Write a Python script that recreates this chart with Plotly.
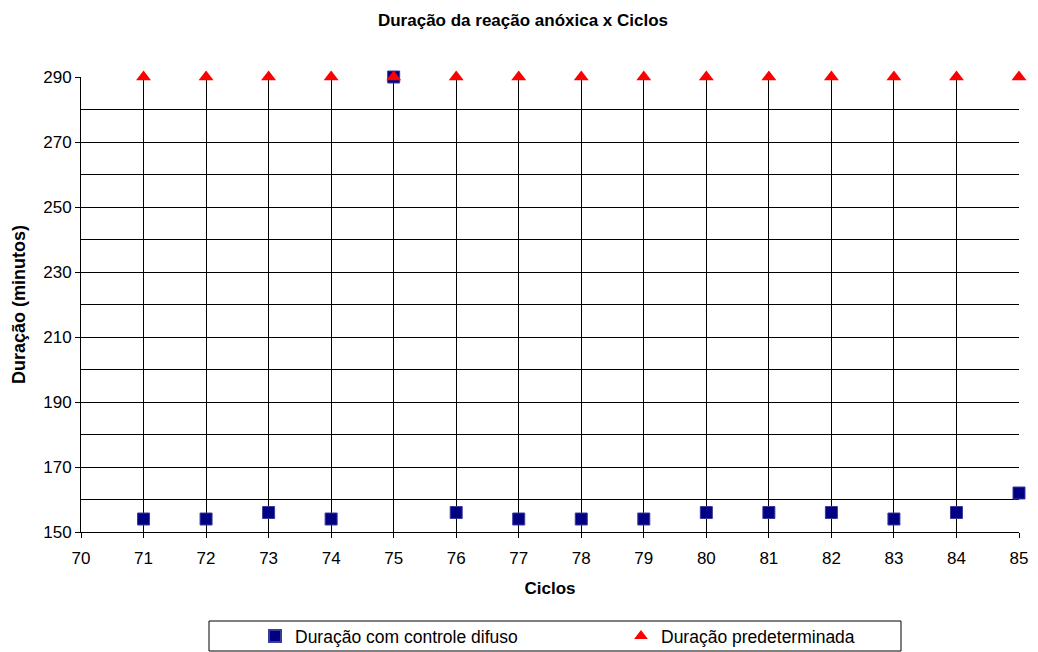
import plotly.graph_objects as go

ciclos = list(range(71, 86))
duracao_difuso = [154, 154, 156, 154, 290, 156, 154, 154, 154, 156, 156, 156, 154, 156, 162]
duracao_predet = [290] * 15

FONT = "Liberation Sans, Arial, sans-serif"

# page body has an 8px default margin, so the figure is 8px smaller and offsets are adjusted
W, H = 1030, 644
PL, PT, PW, PH = 73, 69, 938, 455  # plot area in figure pixels

fig = go.Figure()
fig.add_trace(go.Scatter(
    x=ciclos, y=duracao_difuso, mode="markers", name="Duração com controle difuso",
    marker=dict(symbol="square", size=12, color="#000080", line=dict(width=1, color="#3a3aa0")),
    cliponaxis=False,
))
fig.add_trace(go.Scatter(
    x=ciclos, y=duracao_predet, mode="markers", name="Duração predeterminada",
    marker=dict(symbol="triangle-up", size=13, color="#ff0000", line=dict(width=0)),
    cliponaxis=False,
))

# legend frame (reference screen px -> paper coords)
fig.add_shape(type="rect", xref="paper", yref="paper",
              x0=(209 - 81) / PW, x1=(901 - 81) / PW,
              y0=(532 - 651) / PH, y1=(532 - 621) / PH,
              line=dict(color="black", width=1), fillcolor="rgba(0,0,0,0)", layer="above")

fig.update_layout(
    width=W, height=H,
    margin=dict(l=PL, r=W - PL - PW, t=PT, b=H - PT - PH, autoexpand=False),
    paper_bgcolor="white", plot_bgcolor="white",
    font=dict(family=FONT, size=17, color="black"),
    title=dict(text="<b>Duração da reação anóxica x Ciclos</b>", x=0.5, xanchor="center",
               y=1 - 12 / H, yanchor="middle", font=dict(size=17)),
    showlegend=True,
    legend=dict(orientation="h", x=(255 - 81) / PW, xanchor="left",
                y=(532 - 618) / PH, yanchor="top",
                borderwidth=0, bgcolor="rgba(0,0,0,0)", entrywidth=321, itemwidth=30,
                font=dict(size=17.5), itemsizing="constant"),
)
fig.update_xaxes(
    range=[70, 85], dtick=1, tick0=70, showgrid=True, gridcolor="black", gridwidth=1,
    showline=True, linecolor="black", linewidth=1, ticks="outside", ticklen=5,
    tickcolor="black", zeroline=False, automargin=False, ticklabelstandoff=6,
    title=dict(text="<b>Ciclos</b>", font=dict(size=17), standoff=14),
)
fig.update_yaxes(
    range=[150, 290], dtick=20, tick0=150, showgrid=True, gridcolor="black", gridwidth=1,
    minor=dict(dtick=10, showgrid=True, gridcolor="black", gridwidth=1),
    showline=True, linecolor="black", linewidth=1, ticks="outside", ticklen=5,
    tickcolor="black", zeroline=False, automargin=False,
    title=dict(text="<b>Duração (minutos)</b>", font=dict(size=18), standoff=12),
)

fig.write_html("out.html")
